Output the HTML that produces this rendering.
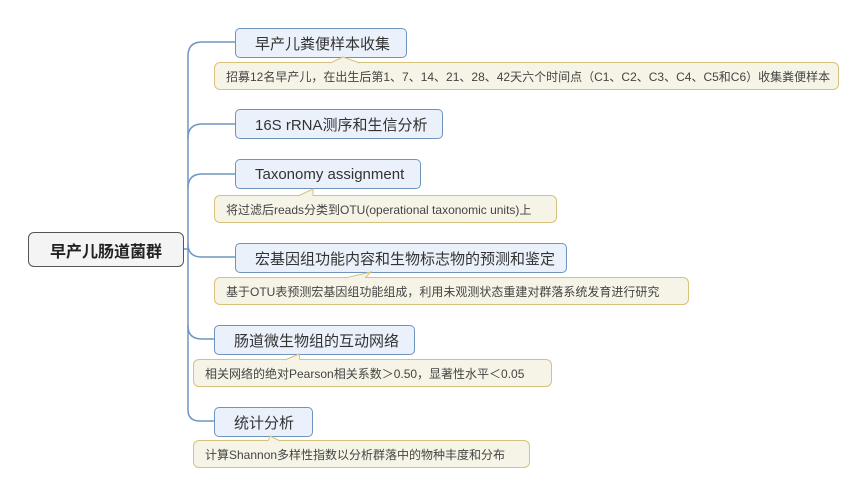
<!DOCTYPE html>
<html><head><meta charset="utf-8"><style>
body{margin:0;width:866px;height:499px;background:#fff;position:relative;overflow:hidden;font-family:"Liberation Sans","Noto Sans CJK SC",sans-serif}
.t{position:absolute;box-sizing:border-box;background:#eaf1fa;border:1px solid #6e93bd;border-radius:5px;color:#333;font-size:15px;display:flex;align-items:center;padding-left:19px;height:30px}
.n{position:absolute;box-sizing:border-box;background:#f6f4e6;border:1px solid #d6c27c;border-radius:6px;color:#444;font-size:12px;display:flex;align-items:center;padding-left:11px;height:28px}
.r{position:absolute;left:28px;top:232px;width:156px;height:35px;box-sizing:border-box;border:1px solid #555;border-radius:6px;background:#f4f4f4;font-size:16px;font-weight:bold;display:flex;align-items:center;justify-content:center;color:#222}
svg{position:absolute;left:0;top:0}
</style></head><body>
<svg width="866" height="499">
<g fill="none" stroke="#7096c0" stroke-width="1.5">
<path d="M184 249 H188"/>
<path d="M235 42 H202 Q188 42 188 56 V410 Q188 421 200 421 H214"/>
<path d="M188 138 Q188 124 202 124 H235"/>
<path d="M188 188 Q188 174 202 174 H235"/>
<path d="M188 244 Q188 257 202 257 H235"/>
<path d="M188 326 Q188 339 202 339 H214"/>
</g>
</svg>
<div class="r">早产儿肠道菌群</div>
<div class="t" style="left:235px;top:28px;width:172px">早产儿粪便样本收集</div>
<div class="n" style="left:214px;top:62px;width:625px">招募12名早产儿，在出生后第1、7、14、21、28、42天六个时间点（C1、C2、C3、C4、C5和C6）收集粪便样本</div>
<div class="t" style="left:235px;top:109px;width:208px">16S rRNA测序和生信分析</div>
<div class="t" style="left:235px;top:159px;width:186px">Taxonomy assignment</div>
<div class="n" style="left:214px;top:195px;width:343px">将过滤后reads分类到OTU(operational taxonomic units)上</div>
<div class="t" style="left:235px;top:243px;width:332px">宏基因组功能内容和生物标志物的预测和鉴定</div>
<div class="n" style="left:214px;top:277px;width:475px">基于OTU表预测宏基因组功能组成，利用未观测状态重建对群落系统发育进行研究</div>
<div class="t" style="left:214px;top:325px;width:201px">肠道微生物组的互动网络</div>
<div class="n" style="left:193px;top:359px;width:359px">相关网络的绝对Pearson相关系数＞0.50，显著性水平＜0.05</div>
<div class="t" style="left:214px;top:407px;width:99px">统计分析</div>
<div class="n" style="left:193px;top:440px;width:337px">计算Shannon多样性指数以分析群落中的物种丰度和分布</div>
<svg width="866" height="499">
<g fill="#f6f4e6" stroke="#d6c27c">
<path d="M330 63 L343 57 L360 63"/>
<path d="M298 196 L313 189 L313 196"/>
<path d="M345 278 L371 272 L365 278"/>
<path d="M285 360 L299 354 L300 360"/>
<path d="M268 441 L270 436 L280 441"/>
</g>
</svg>
</body></html>
